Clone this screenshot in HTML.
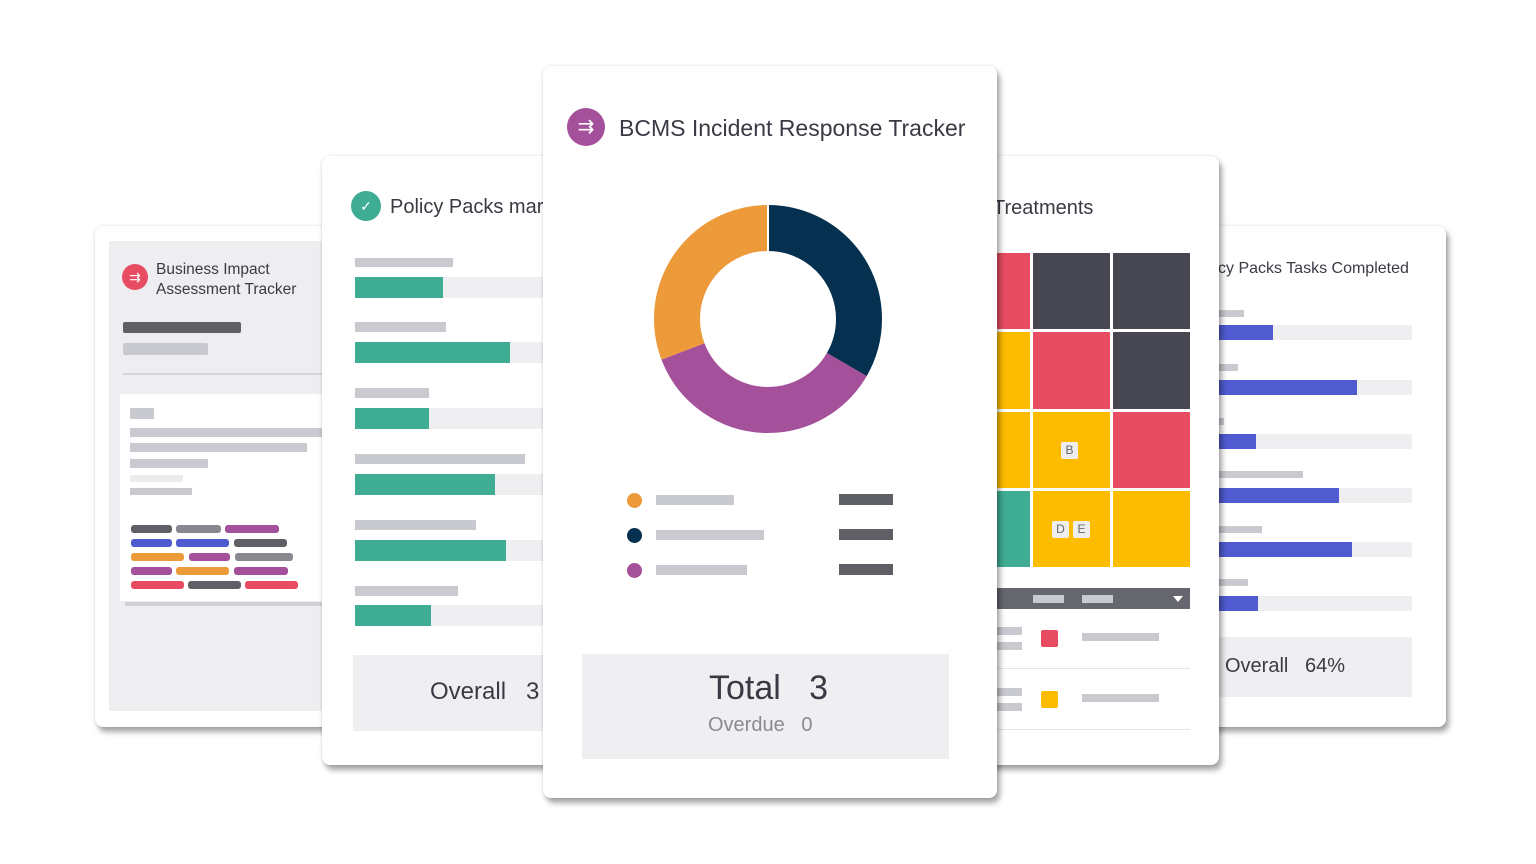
<!DOCTYPE html>
<html><head><meta charset="utf-8"><style>
*{margin:0;padding:0;box-sizing:border-box}
body{width:1536px;height:864px;background:#fff;position:relative;overflow:hidden;font-family:"Liberation Sans",sans-serif;color:#3a3a44}
.a{position:absolute}
.card{position:absolute;background:#fff;border-radius:8px;box-shadow:3px 5px 6px rgba(0,0,0,0.35),0 0 3px rgba(0,0,0,0.12)}
.g{background:#c9c9d0}
.tr{background:#efeff2}
.gr{background:#3fad93}
.bl{background:#4f5bcf}
.p{position:absolute;height:8px;border-radius:3px}
</style></head><body>

<!-- left card -->
<div class="card" style="left:95px;top:226px;width:250px;height:501px">
  <div class="a" style="left:14px;top:15px;width:236px;height:470px;background:#eeeef1"></div>
  <div class="a" style="left:27px;top:38px;width:26px;height:26px;border-radius:50%;background:#e84c63;color:#fff;font-size:14px;line-height:26px;text-align:center">⇉</div>
  <div class="a" style="left:61px;top:34px;font-size:15.5px;line-height:20px;color:#3a3a44">Business Impact<br>Assessment Tracker</div>
  <div class="a" style="left:28px;top:96px;width:118px;height:11px;background:#5f5f66;border-radius:2px"></div>
  <div class="a g" style="left:28px;top:117px;width:85px;height:12px;border-radius:2px"></div>
  <div class="a" style="left:28px;top:147px;width:222px;height:2px;background:#d5d5da"></div>
  <div class="a" style="left:25px;top:168px;width:225px;height:207px;background:#fff"></div>
  <div class="a" style="left:30px;top:376px;width:220px;height:4px;background:#d0d0d6"></div>
  <div class="a g" style="left:35px;top:182px;width:24px;height:11px"></div>
  <div class="a g" style="left:35px;top:202px;width:215px;height:9px"></div>
  <div class="a g" style="left:35px;top:217px;width:177px;height:9px"></div>
  <div class="a g" style="left:35px;top:233px;width:78px;height:9px"></div>
  <div class="a" style="left:35px;top:249px;width:53px;height:7px;background:#ececef"></div>
  <div class="a g" style="left:35px;top:262px;width:62px;height:7px"></div>
  <div class="p" style="left:36px;top:299px;width:41px;background:#5f5f66"></div>
  <div class="p" style="left:81px;top:299px;width:45px;background:#88888f"></div>
  <div class="p" style="left:130px;top:299px;width:54px;background:#a5509a"></div>
  <div class="p" style="left:36px;top:313px;width:41px;background:#4f5bcf"></div>
  <div class="p" style="left:81px;top:313px;width:53px;background:#4f5bcf"></div>
  <div class="p" style="left:139px;top:313px;width:53px;background:#5f5f66"></div>
  <div class="p" style="left:36px;top:327px;width:53px;background:#ec9a3a"></div>
  <div class="p" style="left:94px;top:327px;width:41px;background:#a5509a"></div>
  <div class="p" style="left:140px;top:327px;width:58px;background:#88888f"></div>
  <div class="p" style="left:36px;top:341px;width:41px;background:#a5509a"></div>
  <div class="p" style="left:81px;top:341px;width:53px;background:#ec9a3a"></div>
  <div class="p" style="left:139px;top:341px;width:54px;background:#a5509a"></div>
  <div class="p" style="left:36px;top:355px;width:53px;background:#e84c63"></div>
  <div class="p" style="left:93px;top:355px;width:53px;background:#5f5f66"></div>
  <div class="p" style="left:150px;top:355px;width:53px;background:#e84c63"></div>
</div>

<!-- right back card -->
<div class="card" style="left:1190px;top:226px;width:256px;height:501px">
  <div class="a" style="left:28px;top:34px;font-size:16px;white-space:nowrap;color:#3a3a44">cy Packs Tasks Completed</div>
  <div class="a g" style="left:29px;top:84px;width:25px;height:7px"></div>
  <div class="a tr" style="left:29px;top:99px;width:193px;height:15px"></div><div class="a bl" style="left:29px;top:99px;width:54px;height:15px"></div>
  <div class="a g" style="left:29px;top:138px;width:19px;height:7px"></div>
  <div class="a tr" style="left:29px;top:154px;width:193px;height:15px"></div><div class="a bl" style="left:29px;top:154px;width:138px;height:15px"></div>
  <div class="a g" style="left:29px;top:192px;width:5px;height:7px"></div>
  <div class="a tr" style="left:29px;top:208px;width:193px;height:15px"></div><div class="a bl" style="left:29px;top:208px;width:37px;height:15px"></div>
  <div class="a g" style="left:29px;top:245px;width:84px;height:7px"></div>
  <div class="a tr" style="left:29px;top:262px;width:193px;height:15px"></div><div class="a bl" style="left:29px;top:262px;width:120px;height:15px"></div>
  <div class="a g" style="left:29px;top:300px;width:43px;height:7px"></div>
  <div class="a tr" style="left:29px;top:316px;width:193px;height:15px"></div><div class="a bl" style="left:29px;top:316px;width:133px;height:15px"></div>
  <div class="a g" style="left:29px;top:353px;width:29px;height:7px"></div>
  <div class="a tr" style="left:29px;top:370px;width:193px;height:15px"></div><div class="a bl" style="left:29px;top:370px;width:39px;height:15px"></div>
  <div class="a tr" style="left:29px;top:411px;width:193px;height:60px"></div>
  <div class="a" style="left:35px;top:429px;font-size:20px;color:#3a3a44;white-space:nowrap">Overall &nbsp;&nbsp;64%</div>
</div>

<!-- policy packs card -->
<div class="card" style="left:322px;top:156px;width:250px;height:609px">
  <div class="a" style="left:29px;top:35px;width:30px;height:30px;border-radius:50%;background:#3fad93;color:#fff;font-size:14px;line-height:30px;text-align:center">✓</div>
  <div class="a" style="left:68px;top:40px;font-size:20px;white-space:nowrap">Policy Packs marked</div>
  <div class="a g" style="left:33px;top:102px;width:98px;height:9px"></div>
  <div class="a tr" style="left:33px;top:121px;width:217px;height:21px"></div><div class="a gr" style="left:33px;top:121px;width:88px;height:21px"></div>
  <div class="a g" style="left:33px;top:166px;width:91px;height:10px"></div>
  <div class="a tr" style="left:33px;top:186px;width:217px;height:21px"></div><div class="a gr" style="left:33px;top:186px;width:155px;height:21px"></div>
  <div class="a g" style="left:33px;top:232px;width:74px;height:10px"></div>
  <div class="a tr" style="left:33px;top:252px;width:217px;height:21px"></div><div class="a gr" style="left:33px;top:252px;width:74px;height:21px"></div>
  <div class="a g" style="left:33px;top:298px;width:170px;height:10px"></div>
  <div class="a tr" style="left:33px;top:318px;width:217px;height:21px"></div><div class="a gr" style="left:33px;top:318px;width:140px;height:21px"></div>
  <div class="a g" style="left:33px;top:364px;width:121px;height:10px"></div>
  <div class="a tr" style="left:33px;top:384px;width:217px;height:21px"></div><div class="a gr" style="left:33px;top:384px;width:151px;height:21px"></div>
  <div class="a g" style="left:33px;top:430px;width:103px;height:10px"></div>
  <div class="a tr" style="left:33px;top:449px;width:217px;height:21px"></div><div class="a gr" style="left:33px;top:449px;width:76px;height:21px"></div>
  <div class="a tr" style="left:31px;top:499px;width:219px;height:76px"></div>
  <div class="a" style="left:108px;top:522px;font-size:24px;white-space:nowrap">Overall &nbsp;&nbsp;3</div>
</div>

<!-- treatments card -->
<div class="card" style="left:965px;top:156px;width:254px;height:609px">
  <div class="a" style="left:28px;top:41px;font-size:20px;white-space:nowrap">Treatments</div>
  <div class="a" style="left:0;top:97px;width:65px;height:76px;background:#e84c63"></div>
  <div class="a" style="left:68px;top:97px;width:77px;height:76px;background:#474752"></div>
  <div class="a" style="left:148px;top:97px;width:77px;height:76px;background:#474752"></div>
  <div class="a" style="left:0;top:176px;width:65px;height:77px;background:#fdbc00"></div>
  <div class="a" style="left:68px;top:176px;width:77px;height:77px;background:#e84c63"></div>
  <div class="a" style="left:148px;top:176px;width:77px;height:77px;background:#474752"></div>
  <div class="a" style="left:0;top:256px;width:65px;height:76px;background:#fdbc00"></div>
  <div class="a" style="left:68px;top:256px;width:77px;height:76px;background:#fdbc00"></div>
  <div class="a" style="left:148px;top:256px;width:77px;height:76px;background:#e84c63"></div>
  <div class="a" style="left:0;top:335px;width:65px;height:76px;background:#3fad93"></div>
  <div class="a" style="left:68px;top:335px;width:77px;height:76px;background:#fdbc00"></div>
  <div class="a" style="left:148px;top:335px;width:77px;height:76px;background:#fdbc00"></div>
  <div class="a" style="left:96px;top:286px;width:17px;height:17px;background:#eee;border-radius:2px;font-size:12px;line-height:17px;text-align:center;color:#666">B</div>
  <div class="a" style="left:87px;top:365px;width:17px;height:17px;background:#eee;border-radius:2px;font-size:12px;line-height:17px;text-align:center;color:#666">D</div>
  <div class="a" style="left:108px;top:365px;width:17px;height:17px;background:#eee;border-radius:2px;font-size:12px;line-height:17px;text-align:center;color:#666">E</div>
  <div class="a" style="left:0;top:432px;width:225px;height:21px;background:#66666f"></div>
  <div class="a" style="left:68px;top:439px;width:31px;height:8px;background:#c9c9d0"></div>
  <div class="a" style="left:117px;top:439px;width:31px;height:8px;background:#c9c9d0"></div>
  <div class="a" style="left:208px;top:440px;width:0;height:0;border-left:5px solid transparent;border-right:5px solid transparent;border-top:6px solid #fff"></div>
  <div class="a" style="left:76px;top:474px;width:17px;height:17px;background:#e84c63;border-radius:2px"></div>
  <div class="a g" style="left:117px;top:477px;width:77px;height:8px"></div>
  <div class="a g" style="left:32px;top:471px;width:25px;height:8px"></div>
  <div class="a g" style="left:32px;top:486px;width:25px;height:8px"></div>
  <div class="a" style="left:32px;top:512px;width:193px;height:1px;background:#e6e6ea"></div>
  <div class="a" style="left:76px;top:535px;width:17px;height:17px;background:#fdbc00;border-radius:2px"></div>
  <div class="a g" style="left:117px;top:538px;width:77px;height:8px"></div>
  <div class="a g" style="left:32px;top:532px;width:25px;height:8px"></div>
  <div class="a g" style="left:32px;top:547px;width:25px;height:8px"></div>
  <div class="a" style="left:32px;top:573px;width:193px;height:1px;background:#e6e6ea"></div>
</div>

<!-- center card -->
<div class="card" style="left:543px;top:66px;width:454px;height:732px;z-index:5">
  <div class="a" style="left:24px;top:42px;width:38px;height:38px;border-radius:50%;background:#a5509a;color:#fff;font-size:20px;line-height:38px;text-align:center">⇉</div>
  <div class="a" style="left:76px;top:49px;font-size:23px;white-space:nowrap;color:#3a3a44">BCMS Incident Response Tracker</div>
  <svg class="a" style="left:0;top:0" width="454" height="500">
    <g transform="translate(225,253) rotate(-90)" fill="none" stroke-width="46">
      <circle r="91" stroke="#06304f" stroke-dasharray="190.6 400"/>
      <circle r="91" stroke="#a5509a" stroke-dasharray="0 190.6 204.9 400"/>
      <circle r="91" stroke="#ec9a3a" stroke-dasharray="0 395.5 176.3 400"/>
    </g>
    <line x1="225" y1="139" x2="225" y2="185" stroke="#fff" stroke-width="2"/>
  </svg>
  <div class="a" style="left:84px;top:427px;width:15px;height:15px;border-radius:50%;background:#ec9a3a"></div>
  <div class="a" style="left:84px;top:462px;width:15px;height:15px;border-radius:50%;background:#06304f"></div>
  <div class="a" style="left:84px;top:497px;width:15px;height:15px;border-radius:50%;background:#a5509a"></div>
  <div class="a g" style="left:113px;top:429px;width:78px;height:10px"></div>
  <div class="a g" style="left:113px;top:464px;width:108px;height:10px"></div>
  <div class="a g" style="left:113px;top:499px;width:91px;height:10px"></div>
  <div class="a" style="left:296px;top:428px;width:54px;height:11px;background:#5f5f66"></div>
  <div class="a" style="left:296px;top:463px;width:54px;height:11px;background:#5f5f66"></div>
  <div class="a" style="left:296px;top:498px;width:54px;height:11px;background:#5f5f66"></div>
  <div class="a tr" style="left:39px;top:588px;width:367px;height:105px"></div>
  <div class="a" style="left:166px;top:603px;font-size:34px;white-space:nowrap;color:#3a3a44">Total &nbsp;&nbsp;3</div>
  <div class="a" style="left:165px;top:648px;font-size:20px;white-space:nowrap;color:#8a8a92">Overdue &nbsp;&nbsp;0</div>
</div>
</body></html>
